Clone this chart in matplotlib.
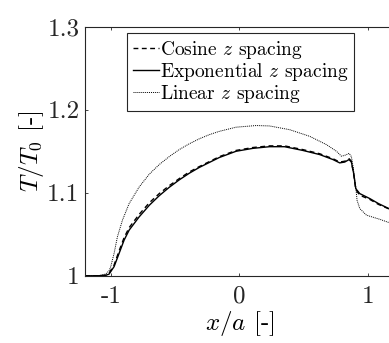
import numpy as np
import matplotlib
matplotlib.use('Agg')
import matplotlib.pyplot as plt

plt.rcParams['font.family'] = 'cmr10'
plt.rcParams['mathtext.fontset'] = 'cm'
plt.rcParams['axes.unicode_minus'] = False

# temperature ratio along the chord for three z-spacings
x_exp = [-1.2, -1.1, -1.04, -1.013, -0.974, -0.935, -0.896, -0.857, -0.779, -0.70, -0.623,
         -0.546, -0.468, -0.39, -0.312, -0.234, -0.156, -0.026, 0.104, 0.234, 0.35, 0.493,
         0.624, 0.727, 0.779, 0.818, 0.852, 0.87, 0.888, 0.904, 0.935, 1.013, 1.08, 1.2]
T_exp = [1.000, 1.000, 1.0005, 1.002, 1.011, 1.027, 1.043, 1.055, 1.071, 1.085, 1.0965,
         1.1065, 1.1155, 1.1235, 1.1305, 1.1365, 1.1425, 1.150, 1.1535, 1.1555, 1.1555, 1.151,
         1.146, 1.140, 1.136, 1.137, 1.140, 1.137, 1.123, 1.105, 1.099, 1.093, 1.087, 1.078]

x_cos = [-1.2, -1.1, -1.04, -1.013, -0.974, -0.935, -0.896, -0.857, -0.779, -0.70, -0.623,
         -0.546, -0.468, -0.39, -0.312, -0.234, -0.156, -0.026, 0.104, 0.234, 0.35, 0.493,
         0.624, 0.727, 0.779, 0.818, 0.852, 0.87, 0.888, 0.904, 0.935, 1.013, 1.08, 1.2]
T_cos = [1.000, 1.000, 1.0005, 1.003, 1.013, 1.030, 1.046, 1.058, 1.074, 1.088, 1.099,
         1.1085, 1.117, 1.125, 1.1315, 1.1375, 1.1435, 1.151, 1.1545, 1.1565, 1.1565, 1.152,
         1.147, 1.141, 1.137, 1.138, 1.141, 1.138, 1.122, 1.104, 1.097, 1.092, 1.086, 1.078]

x_lin = [-1.2, -1.1, -1.04, -1.013, -1.0, -0.974, -0.948, -0.909, -0.857, -0.779, -0.70,
         -0.623, -0.546, -0.468, -0.39, -0.312, -0.234, -0.156, -0.026, 0.13, 0.234, 0.39,
         0.546, 0.676, 0.754, 0.793, 0.826, 0.852, 0.87, 0.883, 0.904, 0.914, 0.935, 0.987,
         1.091, 1.2]
T_lin = [1.000, 1.000, 1.002, 1.006, 1.011, 1.027, 1.047, 1.067, 1.087, 1.107, 1.1225,
         1.134, 1.1435, 1.152, 1.159, 1.165, 1.170, 1.174, 1.179, 1.181, 1.1805, 1.176,
         1.168, 1.158, 1.150, 1.144, 1.1455, 1.1475, 1.1435, 1.1315, 1.107, 1.091, 1.081, 1.073,
         1.068, 1.062]

xticks = [-1, 0, 1]
xticklabels = ['-1', '0', '1']
yticks = [1.0, 1.1, 1.2, 1.3]
yticklabels = ['1', '1.1', '1.2', '1.3']

fig = plt.figure(figsize=(3.89, 3.43), dpi=100)
ax = fig.add_axes([0.2185, 0.196, 0.794, 0.726])

ax.plot(x_cos, T_cos, color='k', lw=1.0, ls=(0, (3.5, 2.5)), label='Cosine $z$ spacing')
ax.plot(x_exp, T_exp, color='k', lw=1.0, ls='-', label='Exponential $z$ spacing')
ax.plot(x_lin, T_lin, color='k', lw=0.7, ls=(0, (1, 1)), label='Linear $z$ spacing')

ax.set_xlim(-1.2, 1.2)
ax.set_ylim(1.0, 1.3)
ax.set_xticks(xticks)
ax.set_xticklabels(xticklabels)
ax.set_yticks(yticks)
ax.set_yticklabels(yticklabels)
ax.tick_params(direction='in', length=2.5, width=0.6, top=True, right=True,
               labelsize=18, colors='#262626')
ax.tick_params(axis='x', pad=7)
ax.tick_params(axis='y', pad=4)
for s in ax.spines.values():
    s.set_linewidth(0.8)
    s.set_color('#262626')

ax.set_xlabel('$x/a$ [-]', fontsize=18, labelpad=1)
ax.set_ylabel('$T/T_0$ [-]', fontsize=18, labelpad=1)

leg = ax.legend(loc='upper left', bbox_to_anchor=(127 / 389, 1 - 33 / 343),
                bbox_transform=fig.transFigure, fontsize=14, fancybox=False,
                framealpha=1, edgecolor='#262626', handlelength=1.35,
                handletextpad=0.05, borderpad=0.3, labelspacing=0.0, borderaxespad=0)
leg.get_frame().set_linewidth(0.8)

fig.savefig('out.png', dpi=100)
